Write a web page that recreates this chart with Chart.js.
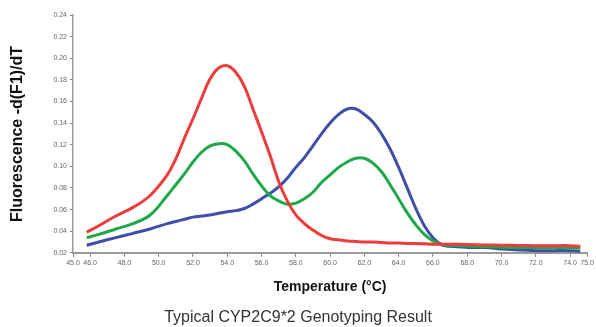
<!DOCTYPE html>
<html>
<head>
<meta charset="utf-8">
<script src="https://cdn.jsdelivr.net/npm/chart.js@4.4.0/dist/chart.umd.min.js"></script>
<style>
  html, body { margin: 0; padding: 0; background: #fff; }
  #wrap { width: 596px; height: 327px; }
</style>
</head>
<body>
<div id="wrap"><canvas id="meltChart"></canvas></div>
<script>
// temperatures (°C) shared by the three melt curves
var temps = [45.8, 46.5, 47.5, 48.5, 49.5, 50.5, 51.0, 51.5, 52.0, 52.5, 53.0, 53.5, 54.0, 54.5, 55.0, 55.5,
  56.0, 56.5, 57.0, 57.5, 58.0, 58.5, 59.0, 59.5, 60.0, 60.5, 61.0, 61.5, 62.0, 62.5, 63.0, 63.5,
  64.0, 64.5, 65.0, 65.5, 66.0, 66.5, 67.0, 68.0, 69.0, 70.0, 71.0, 72.0, 73.0, 74.0, 74.6];

// -d(F1)/dT values
var redValues = [0.039, 0.045, 0.054, 0.062, 0.073, 0.092, 0.107, 0.126, 0.144, 0.163, 0.181, 0.191, 0.193, 0.187, 0.174, 0.153,
  0.132, 0.110, 0.086, 0.068, 0.055, 0.047, 0.041, 0.036, 0.033, 0.032, 0.031, 0.0305, 0.030, 0.030, 0.0295, 0.029,
  0.029, 0.0287, 0.0285, 0.0283, 0.028, 0.028, 0.028, 0.0277, 0.0273, 0.027, 0.0268, 0.0266, 0.0266, 0.0266, 0.026];
var greenValues = [0.034, 0.037, 0.042, 0.047, 0.055, 0.073, 0.083, 0.093, 0.104, 0.113, 0.119, 0.121, 0.120, 0.114, 0.105, 0.093,
  0.082, 0.073, 0.068, 0.065, 0.066, 0.070, 0.076, 0.085, 0.092, 0.099, 0.104, 0.1075, 0.1075, 0.103, 0.095, 0.083,
  0.070, 0.057, 0.046, 0.037, 0.031, 0.0275, 0.027, 0.0262, 0.0258, 0.0252, 0.025, 0.025, 0.0248, 0.0246, 0.0245];
var blueValues = [0.027, 0.030, 0.034, 0.038, 0.042, 0.047, 0.049, 0.051, 0.053, 0.054, 0.055, 0.0565, 0.058, 0.059, 0.061, 0.065,
  0.070, 0.075, 0.081, 0.089, 0.099, 0.108, 0.119, 0.130, 0.140, 0.148, 0.153, 0.153, 0.148, 0.141, 0.130, 0.116,
  0.099, 0.080, 0.061, 0.045, 0.034, 0.0275, 0.026, 0.025, 0.0248, 0.0235, 0.0225, 0.022, 0.022, 0.022, 0.0215];

// x axis tick labels
var xTicks = [45, 46, 48, 50, 52, 54, 56, 58, 60, 62, 64, 66, 68, 70, 72, 74, 75];

function toPoints(values) {
  return temps.map(function(t, i) { return { x: t, y: values[i] }; });
}

function curve(values, color) {
  return {
    data: toPoints(values),
    borderColor: color,
    borderWidth: 3,
    pointRadius: 0,
    fill: false,
    tension: 0.4
  };
}

var ctx = document.getElementById('meltChart').getContext('2d');
var myChart = new Chart(ctx, {
  type: 'line',
  data: {
    datasets: [
      curve(redValues, '#ee3b3b'),
      curve(greenValues, '#1ea84a'),
      curve(blueValues, '#3f4ea6')
    ]
  },
  options: {
    responsive: true,
    maintainAspectRatio: false,
    animation: false,
    layout: { padding: { top: 15, right: 0, left: 0, bottom: 0 } },
    plugins: {
      legend: { display: false },
      tooltip: { enabled: false },
      title: {
        display: true,
        position: 'bottom',
        text: 'Typical CYP2C9*2 Genotyping Result',
        color: '#333',
        font: { family: 'Liberation Sans, Arial', size: 16, weight: 'normal' },
        padding: { top: 0, bottom: 0 }
      }
    },
    scales: {
      x: {
        type: 'linear',
        min: 45,
        max: 75,
        afterBuildTicks: function(scale) {
          scale.ticks = xTicks.map(function(v) { return { value: v }; });
        },
        afterFit: function(scale) { scale.height = 55; },
        ticks: {
          autoSkip: false,
          maxRotation: 0,
          padding: 2,
          color: '#666',
          font: { family: 'Liberation Sans, Arial', size: 7 },
          callback: function(v) { return Number(v).toFixed(1); }
        },
        grid: { drawOnChartArea: false, drawTicks: true, tickLength: 4, color: '#888' },
        border: { display: true, color: '#9a9a9a', width: 2 },
        title: {
          display: true,
          text: 'Temperature (°C)',
          color: '#111',
          font: { family: 'Liberation Sans, Arial', size: 14, weight: 'bold' },
          padding: { top: 0, bottom: 12 }
        }
      },
      y: {
        min: 0.02,
        max: 0.24,
        afterFit: function(scale) { scale.width = 73; },
        ticks: {
          stepSize: 0.02,
          padding: 3,
          color: '#666',
          font: { family: 'Liberation Sans, Arial', size: 7 },
          callback: function(v) { return Number(v).toFixed(2); }
        },
        grid: { drawOnChartArea: false, drawTicks: true, tickLength: 3, color: '#888' },
        border: { display: true, color: '#9a9a9a', width: 1.5 },
        title: {
          display: true,
          text: 'Fluorescence -d(F1)/dT',
          color: '#111',
          font: { family: 'Liberation Sans, Arial', size: 16, weight: 'bold' },
          padding: { top: 8, bottom: 0 }
        }
      }
    }
  }
});
</script>
</body>
</html>
